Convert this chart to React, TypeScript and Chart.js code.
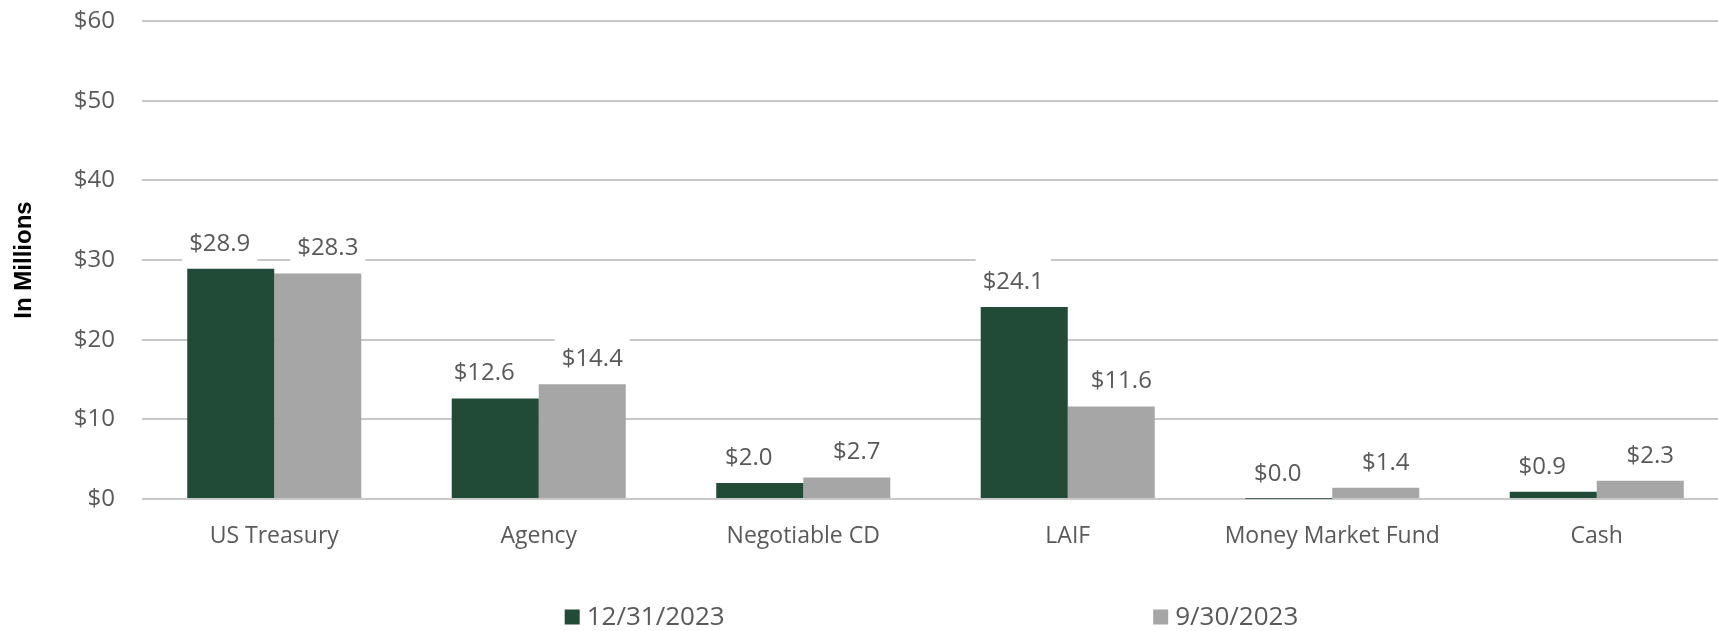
import React, { useEffect, useRef } from 'react';
import { Chart, registerables } from 'chart.js';

Chart.register(...registerables);

const categories = ['US Treasury', 'Agency', 'Negotiable CD', 'LAIF', 'Money Market Fund', 'Cash'];
const seriesDec2023 = [28.9, 12.6, 2.0, 24.1, 0.04, 0.9];
const seriesSep2023 = [28.3, 14.4, 2.7, 11.6, 1.4, 2.3];
const seriesNames = ['12/31/2023', '9/30/2023'];
const yTickValues = [0, 10, 20, 30, 40, 50, 60];

const COLORS = ['#224B37', '#A6A6A6'];
const FONT = '"Open Sans", sans-serif';
const TEXT_COLOR = '#595959';
const LABEL_SHIFT = [-11, 10];

const barLabelPlugin = {
  id: 'barLabels',
  afterDatasetsDraw(chart: any) {
    const ctx = chart.ctx;
    ctx.save();
    ctx.font = `24px ${FONT}`;
    ctx.textAlign = 'center';
    ctx.textBaseline = 'middle';
    chart.data.datasets.forEach((ds: any, di: number) => {
      const meta = chart.getDatasetMeta(di);
      meta.data.forEach((bar: any, i: number) => {
        const v = ds.data[i] as number;
        const text = '$' + v.toFixed(1);
        const x = bar.x + LABEL_SHIFT[di];
        const y = bar.y - 25;
        const w = ctx.measureText(text).width;
        ctx.fillStyle = '#ffffff';
        ctx.fillRect(x - w / 2 - 7, y - 24, w + 14, 43);
        ctx.fillStyle = TEXT_COLOR;
        ctx.fillText(text, x, y);
      });
    });
    ctx.restore();
  },
};

const legendPlugin = {
  id: 'wideLegend',
  afterDraw(chart: any) {
    const ctx = chart.ctx;
    const area = chart.chartArea;
    ctx.save();
    ctx.font = `26px ${FONT}`;
    ctx.textBaseline = 'middle';
    ctx.textAlign = 'left';
    const box = 15;
    const textGap = 7;
    const gap = area.width * 0.27;
    const items = chart.data.datasets.map((ds: any) => ({
      label: ds.label,
      color: ds.backgroundColor,
      w: box + textGap + ctx.measureText(ds.label).width,
    }));
    const total = items.reduce((s: number, it: any) => s + it.w, 0) + gap * (items.length - 1);
    let x = (area.left + area.right) / 2 - total / 2 - 4;
    const y = 617;
    items.forEach((it: any) => {
      ctx.fillStyle = it.color;
      ctx.fillRect(x, y - box / 2, box, box);
      ctx.fillStyle = TEXT_COLOR;
      ctx.fillText(it.label, x + box + textGap, y + 1);
      x += it.w + gap;
    });
    ctx.restore();
  },
};

export default function App() {
  const canvasRef = useRef<HTMLCanvasElement | null>(null);

  useEffect(() => {
    if (!canvasRef.current) return;
    const chart = new Chart(canvasRef.current, {
      type: 'bar',
      data: {
        labels: categories,
        datasets: [
          {
            label: seriesNames[0],
            data: seriesDec2023,
            backgroundColor: COLORS[0],
            borderWidth: 0,
            barPercentage: 1,
            categoryPercentage: 0.658,
          },
          {
            label: seriesNames[1],
            data: seriesSep2023,
            backgroundColor: COLORS[1],
            borderWidth: 0,
            barPercentage: 1,
            categoryPercentage: 0.658,
          },
        ],
      },
      options: {
        animation: false,
        responsive: false,
        devicePixelRatio: 1,
        layout: { padding: { top: 21, right: 1, left: 0, bottom: 0 } },
        plugins: {
          legend: { display: false },
          tooltip: { enabled: false },
        },
        scales: {
          x: {
            grid: { display: false, drawTicks: false },
            border: { display: false },
            ticks: {
              font: { family: FONT, size: 23 },
              color: TEXT_COLOR,
              padding: 24,
              maxRotation: 0,
              autoSkip: false,
            },
            afterFit: (scale: any) => {
              scale.height = 132;
            },
          },
          y: {
            min: yTickValues[0],
            max: yTickValues[yTickValues.length - 1],
            afterBuildTicks: (scale: any) => {
              scale.ticks = yTickValues.map((v) => ({ value: v }));
            },
            grid: { color: '#C8C8C8', lineWidth: 2, drawTicks: false },
            border: { display: false },
            ticks: {
              font: { family: FONT, size: 24 },
              color: TEXT_COLOR,
              padding: 27,
              callback: (v: any) => '$' + v,
            },
            title: {
              display: true,
              text: 'In Millions',
              color: '#000000',
              font: { family: '"Liberation Sans", Arial, sans-serif', size: 24, weight: 'bold' },
              padding: { top: 10, bottom: 0 },
            },
            afterFit: (scale: any) => {
              scale.width = 142;
              scale.paddingTop = 0;
              scale.paddingBottom = 0;
            },
          },
        },
      },
      plugins: [barLabelPlugin, legendPlugin],
    });
    return () => chart.destroy();
  }, []);

  return (
    <div
      style={{
        position: 'fixed',
        left: 0,
        top: 0,
        width: 1718,
        height: 631,
        overflow: 'hidden',
        background: '#ffffff',
      }}
    >
      <canvas ref={canvasRef} width={1730} height={631} style={{ display: 'block' }} />
    </div>
  );
}
